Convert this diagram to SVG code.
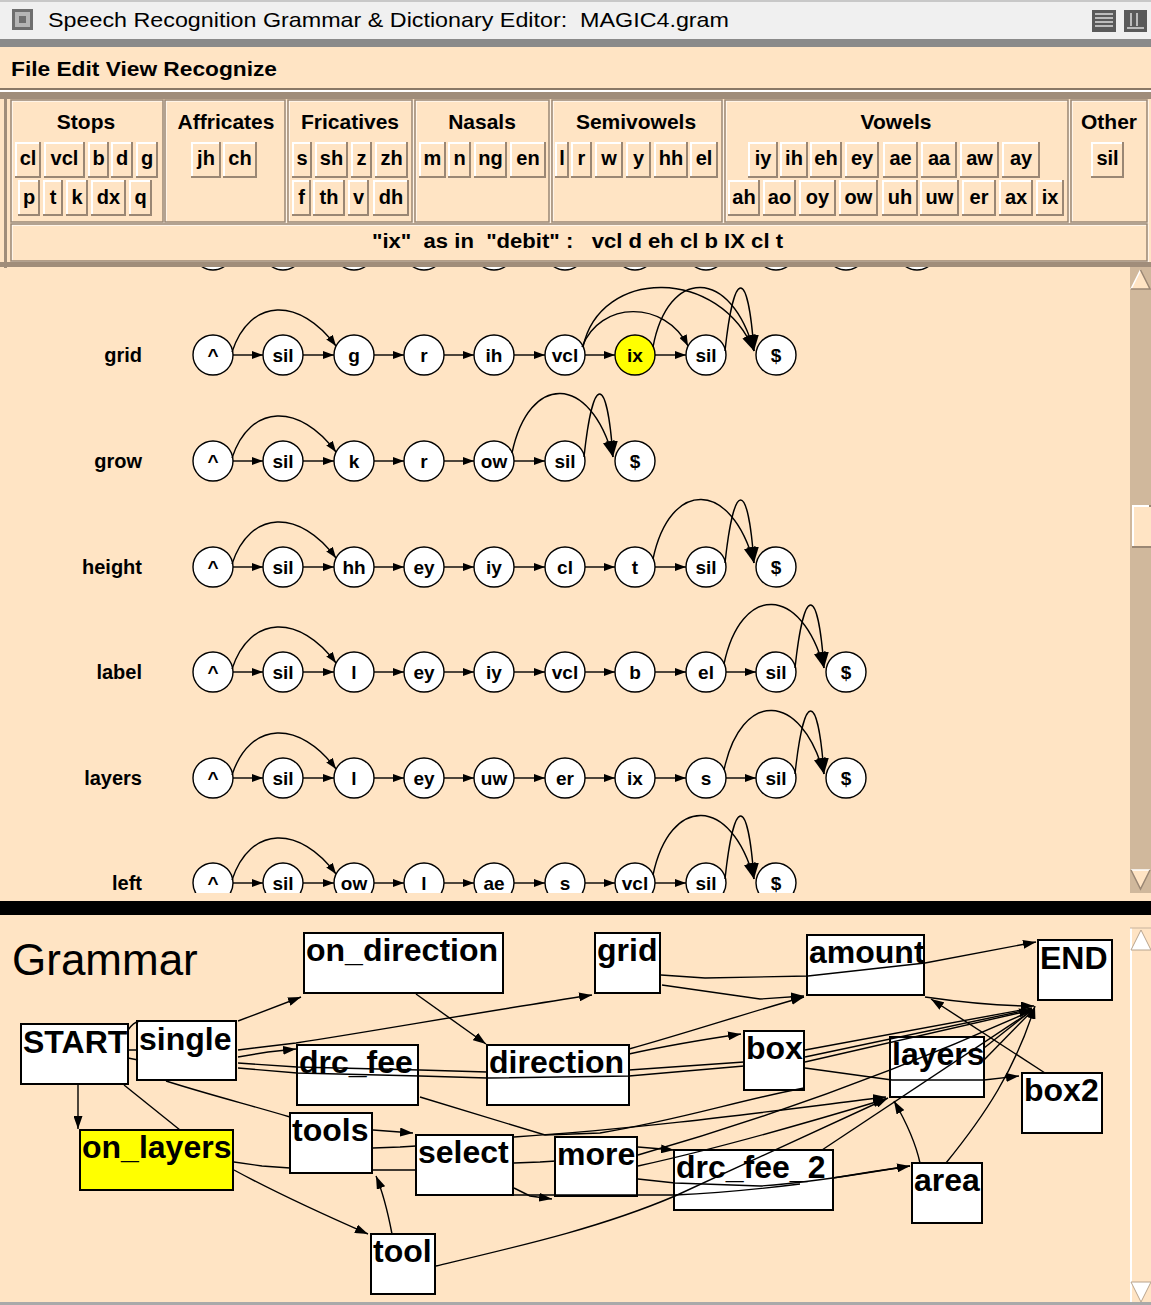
<svg xmlns="http://www.w3.org/2000/svg" width="1151" height="1305" viewBox="0 0 1151 1305">
<defs>
<style>
text{font-family:"Liberation Sans",Arial,sans-serif;white-space:pre}
.bd{fill:#9a8774}.bw{fill:#fff}.bf{fill:#ffe4c4}
.bt{font-size:20px;font-weight:bold;text-anchor:middle}
.gt{font-size:21px;font-weight:bold;text-anchor:middle}
.frd{fill:none;stroke:#9a8774;stroke-width:1.5}
.frw{fill:none;stroke:#fff;stroke-width:1.2}
.pn circle{fill:#fff;stroke:#000;stroke-width:1.4}
.pn text{font-size:19px;font-weight:bold;text-anchor:middle}
.pe path{fill:none;stroke:#000;stroke-width:1.4}
.rl{font-size:20px;font-weight:bold;text-anchor:end}
.gm rect{fill:#fff;stroke:#000;stroke-width:2}
.gm text{font-size:32px;font-weight:bold}
.ce path{fill:none;stroke:#000;stroke-width:1.4}
</style>
<marker id="s" viewBox="0 0 11 8" refX="11" refY="4" markerWidth="11" markerHeight="8" markerUnits="userSpaceOnUse" orient="auto"><path d="M0,0L11,4L0,8z"/></marker>
<marker id="bg" viewBox="0 0 16 12" refX="16" refY="6" markerWidth="16" markerHeight="12" markerUnits="userSpaceOnUse" orient="auto"><path d="M0,0L16,6L0,12z"/></marker>
<marker id="m" viewBox="0 0 13 9" refX="13" refY="4.5" markerWidth="13" markerHeight="9" markerUnits="userSpaceOnUse" orient="auto"><path d="M0,0L13,4.5L0,9z"/></marker>
<clipPath id="cu"><rect x="5" y="267" width="1124" height="626"/></clipPath>
</defs>

<rect width="1151" height="1305" fill="#ffe4c4"/>

<!-- title bar -->
<rect width="1151" height="39" fill="#f0f0f0"/>
<rect width="1151" height="2" fill="#c8c8c8"/>
<rect y="39" width="1151" height="8" fill="#8a8a8a"/>
<rect x="12" y="9" width="21" height="21" fill="#6e6e6e"/>
<rect x="15" y="12" width="15" height="15" fill="#b5b5b5"/>
<rect x="19" y="16" width="7" height="7" fill="#6e6e6e"/>
<rect x="1092" y="10" width="24" height="22" fill="#5a5a5a"/>
<path d="M1095,14H1113M1095,18H1113M1095,22H1113M1095,26H1113" stroke="#ddd" stroke-width="1.5"/>
<rect x="1124" y="10" width="23" height="22" fill="#5a5a5a"/>
<path d="M1127,28H1144M1131,13V26M1137,13V26" stroke="#ddd" stroke-width="1.5"/>
<text x="48" y="27" font-size="21" textLength="681" lengthAdjust="spacingAndGlyphs">Speech Recognition Grammar &amp; Dictionary Editor:  MAGIC4.gram</text>

<!-- menu bar -->
<text x="11" y="76" font-size="21" font-weight="bold" textLength="266" lengthAdjust="spacingAndGlyphs">File Edit View Recognize</text>
<rect y="88" width="1151" height="2" fill="#8a7866"/>
<rect y="90" width="1151" height="2" fill="#fff"/>
<rect y="92" width="1151" height="7" fill="#a08d7a"/>
<rect x="4" y="92" width="3" height="176" fill="#a08d7a"/>

<!-- phoneme panel frames -->
<g>
<rect class="frw" x="12" y="101" width="152" height="122"/><rect class="frd" x="11" y="100" width="152" height="122"/>
<rect class="frw" x="166" y="101" width="120" height="122"/><rect class="frd" x="165" y="100" width="120" height="122"/>
<rect class="frw" x="289" y="101" width="124" height="122"/><rect class="frd" x="288" y="100" width="124" height="122"/>
<rect class="frw" x="416" y="101" width="134" height="122"/><rect class="frd" x="415" y="100" width="134" height="122"/>
<rect class="frw" x="553" y="101" width="170" height="122"/><rect class="frd" x="552" y="100" width="170" height="122"/>
<rect class="frw" x="726" y="101" width="343" height="122"/><rect class="frd" x="725" y="100" width="343" height="122"/>
<rect class="frw" x="1072" y="101" width="76" height="122"/><rect class="frd" x="1071" y="100" width="76" height="122"/>
<rect class="frw" x="12" y="225" width="1136" height="37"/><rect class="frd" x="11" y="224" width="1136" height="37"/>
<text class="gt" x="86" y="129">Stops</text>
<text class="gt" x="226" y="129">Affricates</text>
<text class="gt" x="350" y="129">Fricatives</text>
<text class="gt" x="482" y="129">Nasals</text>
<text class="gt" x="636" y="129">Semivowels</text>
<text class="gt" x="896" y="129">Vowels</text>
<text class="gt" x="1109" y="129">Other</text>
<text x="372" y="248" font-size="20" font-weight="bold" textLength="411" lengthAdjust="spacingAndGlyphs">"ix"  as in  "debit" :   vcl d eh cl b IX cl t</text>
</g>

<!-- phoneme buttons row 1 -->
<g>
<rect class="bd" x="15" y="142" width="26" height="36"/><rect class="bw" x="15" y="142" width="24" height="34"/><rect class="bf" x="17" y="144" width="22" height="32"/><text class="bt" x="28" y="165">cl</text>
<rect class="bd" x="44" y="142" width="41" height="36"/><rect class="bw" x="44" y="142" width="39" height="34"/><rect class="bf" x="46" y="144" width="37" height="32"/><text class="bt" x="64.5" y="165">vcl</text>
<rect class="bd" x="88" y="142" width="21" height="36"/><rect class="bw" x="88" y="142" width="19" height="34"/><rect class="bf" x="90" y="144" width="17" height="32"/><text class="bt" x="98.5" y="165">b</text>
<rect class="bd" x="111" y="142" width="22" height="36"/><rect class="bw" x="111" y="142" width="20" height="34"/><rect class="bf" x="113" y="144" width="18" height="32"/><text class="bt" x="122" y="165">d</text>
<rect class="bd" x="136" y="142" width="22" height="36"/><rect class="bw" x="136" y="142" width="20" height="34"/><rect class="bf" x="138" y="144" width="18" height="32"/><text class="bt" x="147" y="165">g</text>
<rect class="bd" x="191" y="142" width="30" height="36"/><rect class="bw" x="191" y="142" width="28" height="34"/><rect class="bf" x="193" y="144" width="26" height="32"/><text class="bt" x="206" y="165">jh</text>
<rect class="bd" x="223" y="142" width="34" height="36"/><rect class="bw" x="223" y="142" width="32" height="34"/><rect class="bf" x="225" y="144" width="30" height="32"/><text class="bt" x="240" y="165">ch</text>
<rect class="bd" x="292" y="142" width="20" height="36"/><rect class="bw" x="292" y="142" width="18" height="34"/><rect class="bf" x="294" y="144" width="16" height="32"/><text class="bt" x="302" y="165">s</text>
<rect class="bd" x="315" y="142" width="33" height="36"/><rect class="bw" x="315" y="142" width="31" height="34"/><rect class="bf" x="317" y="144" width="29" height="32"/><text class="bt" x="331.5" y="165">sh</text>
<rect class="bd" x="351" y="142" width="21" height="36"/><rect class="bw" x="351" y="142" width="19" height="34"/><rect class="bf" x="353" y="144" width="17" height="32"/><text class="bt" x="361.5" y="165">z</text>
<rect class="bd" x="375" y="142" width="33" height="36"/><rect class="bw" x="375" y="142" width="31" height="34"/><rect class="bf" x="377" y="144" width="29" height="32"/><text class="bt" x="391.5" y="165">zh</text>
<rect class="bd" x="419" y="142" width="27" height="36"/><rect class="bw" x="419" y="142" width="25" height="34"/><rect class="bf" x="421" y="144" width="23" height="32"/><text class="bt" x="432.5" y="165">m</text>
<rect class="bd" x="448" y="142" width="23" height="36"/><rect class="bw" x="448" y="142" width="21" height="34"/><rect class="bf" x="450" y="144" width="19" height="32"/><text class="bt" x="459.5" y="165">n</text>
<rect class="bd" x="474" y="142" width="33" height="36"/><rect class="bw" x="474" y="142" width="31" height="34"/><rect class="bf" x="476" y="144" width="29" height="32"/><text class="bt" x="490.5" y="165">ng</text>
<rect class="bd" x="510" y="142" width="36" height="36"/><rect class="bw" x="510" y="142" width="34" height="34"/><rect class="bf" x="512" y="144" width="32" height="32"/><text class="bt" x="528" y="165">en</text>
<rect class="bd" x="555" y="142" width="14" height="36"/><rect class="bw" x="555" y="142" width="12" height="34"/><rect class="bf" x="557" y="144" width="10" height="32"/><text class="bt" x="562" y="165">l</text>
<rect class="bd" x="571" y="142" width="21" height="36"/><rect class="bw" x="571" y="142" width="19" height="34"/><rect class="bf" x="573" y="144" width="17" height="32"/><text class="bt" x="581.5" y="165">r</text>
<rect class="bd" x="595" y="142" width="28" height="36"/><rect class="bw" x="595" y="142" width="26" height="34"/><rect class="bf" x="597" y="144" width="24" height="32"/><text class="bt" x="609" y="165">w</text>
<rect class="bd" x="626" y="142" width="25" height="36"/><rect class="bw" x="626" y="142" width="23" height="34"/><rect class="bf" x="628" y="144" width="21" height="32"/><text class="bt" x="638.5" y="165">y</text>
<rect class="bd" x="654" y="142" width="34" height="36"/><rect class="bw" x="654" y="142" width="32" height="34"/><rect class="bf" x="656" y="144" width="30" height="32"/><text class="bt" x="671" y="165">hh</text>
<rect class="bd" x="690" y="142" width="28" height="36"/><rect class="bw" x="690" y="142" width="26" height="34"/><rect class="bf" x="692" y="144" width="24" height="32"/><text class="bt" x="704" y="165">el</text>
<rect class="bd" x="748" y="142" width="30" height="36"/><rect class="bw" x="748" y="142" width="28" height="34"/><rect class="bf" x="750" y="144" width="26" height="32"/><text class="bt" x="763" y="165">iy</text>
<rect class="bd" x="780" y="142" width="28" height="36"/><rect class="bw" x="780" y="142" width="26" height="34"/><rect class="bf" x="782" y="144" width="24" height="32"/><text class="bt" x="794" y="165">ih</text>
<rect class="bd" x="810" y="142" width="32" height="36"/><rect class="bw" x="810" y="142" width="30" height="34"/><rect class="bf" x="812" y="144" width="28" height="32"/><text class="bt" x="826" y="165">eh</text>
<rect class="bd" x="845" y="142" width="34" height="36"/><rect class="bw" x="845" y="142" width="32" height="34"/><rect class="bf" x="847" y="144" width="30" height="32"/><text class="bt" x="862" y="165">ey</text>
<rect class="bd" x="883" y="142" width="35" height="36"/><rect class="bw" x="883" y="142" width="33" height="34"/><rect class="bf" x="885" y="144" width="31" height="32"/><text class="bt" x="900.5" y="165">ae</text>
<rect class="bd" x="921" y="142" width="36" height="36"/><rect class="bw" x="921" y="142" width="34" height="34"/><rect class="bf" x="923" y="144" width="32" height="32"/><text class="bt" x="939" y="165">aa</text>
<rect class="bd" x="960" y="142" width="39" height="36"/><rect class="bw" x="960" y="142" width="37" height="34"/><rect class="bf" x="962" y="144" width="35" height="32"/><text class="bt" x="979.5" y="165">aw</text>
<rect class="bd" x="1002" y="142" width="38" height="36"/><rect class="bw" x="1002" y="142" width="36" height="34"/><rect class="bf" x="1004" y="144" width="34" height="32"/><text class="bt" x="1021" y="165">ay</text>
<rect class="bd" x="1091" y="142" width="33" height="36"/><rect class="bw" x="1091" y="142" width="31" height="34"/><rect class="bf" x="1093" y="144" width="29" height="32"/><text class="bt" x="1107.5" y="165">sil</text>
</g>
<!-- phoneme buttons row 2 -->
<g>
<rect class="bd" x="18" y="180" width="22" height="36"/><rect class="bw" x="18" y="180" width="20" height="34"/><rect class="bf" x="20" y="182" width="18" height="32"/><text class="bt" x="29" y="204">p</text>
<rect class="bd" x="43" y="180" width="20" height="36"/><rect class="bw" x="43" y="180" width="18" height="34"/><rect class="bf" x="45" y="182" width="16" height="32"/><text class="bt" x="53" y="204">t</text>
<rect class="bd" x="66" y="180" width="22" height="36"/><rect class="bw" x="66" y="180" width="20" height="34"/><rect class="bf" x="68" y="182" width="18" height="32"/><text class="bt" x="77" y="204">k</text>
<rect class="bd" x="91" y="180" width="35" height="36"/><rect class="bw" x="91" y="180" width="33" height="34"/><rect class="bf" x="93" y="182" width="31" height="32"/><text class="bt" x="108.5" y="204">dx</text>
<rect class="bd" x="129" y="180" width="23" height="36"/><rect class="bw" x="129" y="180" width="21" height="34"/><rect class="bf" x="131" y="182" width="19" height="32"/><text class="bt" x="140.5" y="204">q</text>
<rect class="bd" x="292" y="180" width="19" height="36"/><rect class="bw" x="292" y="180" width="17" height="34"/><rect class="bf" x="294" y="182" width="15" height="32"/><text class="bt" x="301.5" y="204">f</text>
<rect class="bd" x="313" y="180" width="32" height="36"/><rect class="bw" x="313" y="180" width="30" height="34"/><rect class="bf" x="315" y="182" width="28" height="32"/><text class="bt" x="329" y="204">th</text>
<rect class="bd" x="348" y="180" width="21" height="36"/><rect class="bw" x="348" y="180" width="19" height="34"/><rect class="bf" x="350" y="182" width="17" height="32"/><text class="bt" x="358.5" y="204">v</text>
<rect class="bd" x="373" y="180" width="36" height="36"/><rect class="bw" x="373" y="180" width="34" height="34"/><rect class="bf" x="375" y="182" width="32" height="32"/><text class="bt" x="391" y="204">dh</text>
<rect class="bd" x="728" y="180" width="32" height="36"/><rect class="bw" x="728" y="180" width="30" height="34"/><rect class="bf" x="730" y="182" width="28" height="32"/><text class="bt" x="744" y="204">ah</text>
<rect class="bd" x="763" y="180" width="33" height="36"/><rect class="bw" x="763" y="180" width="31" height="34"/><rect class="bf" x="765" y="182" width="29" height="32"/><text class="bt" x="779.5" y="204">ao</text>
<rect class="bd" x="799" y="180" width="37" height="36"/><rect class="bw" x="799" y="180" width="35" height="34"/><rect class="bf" x="801" y="182" width="33" height="32"/><text class="bt" x="817.5" y="204">oy</text>
<rect class="bd" x="839" y="180" width="39" height="36"/><rect class="bw" x="839" y="180" width="37" height="34"/><rect class="bf" x="841" y="182" width="35" height="32"/><text class="bt" x="858.5" y="204">ow</text>
<rect class="bd" x="882" y="180" width="36" height="36"/><rect class="bw" x="882" y="180" width="34" height="34"/><rect class="bf" x="884" y="182" width="32" height="32"/><text class="bt" x="900" y="204">uh</text>
<rect class="bd" x="920" y="180" width="39" height="36"/><rect class="bw" x="920" y="180" width="37" height="34"/><rect class="bf" x="922" y="182" width="35" height="32"/><text class="bt" x="939.5" y="204">uw</text>
<rect class="bd" x="962" y="180" width="34" height="36"/><rect class="bw" x="962" y="180" width="32" height="34"/><rect class="bf" x="964" y="182" width="30" height="32"/><text class="bt" x="979" y="204">er</text>
<rect class="bd" x="999" y="180" width="34" height="36"/><rect class="bw" x="999" y="180" width="32" height="34"/><rect class="bf" x="1001" y="182" width="30" height="32"/><text class="bt" x="1016" y="204">ax</text>
<rect class="bd" x="1036" y="180" width="28" height="36"/><rect class="bw" x="1036" y="180" width="26" height="34"/><rect class="bf" x="1038" y="182" width="24" height="32"/><text class="bt" x="1050" y="204">ix</text>
</g>

<rect y="262" width="1151" height="5" fill="#a08d7a"/>

<!-- upper scrollbar -->
<rect x="1130" y="267" width="21" height="626" fill="#d0b89c"/>
<polygon points="1131,289 1140.5,270 1150,289" fill="#ffe4c4"/>
<path d="M1131,289L1140.5,270" stroke="#fff" stroke-width="1.5"/><path d="M1140.5,270L1150,289H1131" stroke="#9a8774" stroke-width="1.5" fill="none"/>
<polygon points="1131,870 1150,870 1140.5,889" fill="#ffe4c4"/>
<path d="M1131,870H1150" stroke="#fff" stroke-width="1.5"/><path d="M1150,870L1140.5,889L1131,870" stroke="#9a8774" stroke-width="1.5" fill="none"/>
<rect x="1132" y="505" width="19" height="43" fill="#9a8774"/><rect x="1132" y="505" width="17" height="41" fill="#fff"/><rect x="1134" y="507" width="17" height="39" fill="#ffe4c4"/>

<!-- word pronunciation graphs -->
<g clip-path="url(#cu)">
<g class="pn" id="prev-row">
<circle cx="213" cy="250" r="20"/><circle cx="283" cy="250" r="20"/><circle cx="354" cy="250" r="20"/><circle cx="424" cy="250" r="20"/><circle cx="494" cy="250" r="20"/><circle cx="565" cy="250" r="20"/><circle cx="635" cy="250" r="20"/><circle cx="706" cy="250" r="20"/><circle cx="776" cy="250" r="20"/><circle cx="846" cy="250" r="20"/><circle cx="917" cy="250" r="20"/>
</g>

<text class="rl" x="142" y="362">grid</text>
<text class="rl" x="142" y="468">grow</text>
<text class="rl" x="142" y="574">height</text>
<text class="rl" x="142" y="679">label</text>
<text class="rl" x="142" y="785">layers</text>
<text class="rl" x="142" y="890">left</text>

<g class="pn">
<g id="grid-0"><circle cx="213" cy="355" r="20"/><text x="213" y="362">^</text></g>
<g id="grid-1"><circle cx="283" cy="355" r="20"/><text x="283" y="362">sil</text></g>
<g id="grid-2"><circle cx="354" cy="355" r="20"/><text x="354" y="362">g</text></g>
<g id="grid-3"><circle cx="424" cy="355" r="20"/><text x="424" y="362">r</text></g>
<g id="grid-4"><circle cx="494" cy="355" r="20"/><text x="494" y="362">ih</text></g>
<g id="grid-5"><circle cx="565" cy="355" r="20"/><text x="565" y="362">vcl</text></g>
<g id="grid-6"><circle cx="635" cy="355" r="20" style="fill:#ffff00"/><text x="635" y="362">ix</text></g>
<g id="grid-7"><circle cx="706" cy="355" r="20"/><text x="706" y="362">sil</text></g>
<g id="grid-8"><circle cx="776" cy="355" r="20"/><text x="776" y="362">$</text></g>

<g id="grow-0"><circle cx="213" cy="461" r="20"/><text x="213" y="468">^</text></g>
<g id="grow-1"><circle cx="283" cy="461" r="20"/><text x="283" y="468">sil</text></g>
<g id="grow-2"><circle cx="354" cy="461" r="20"/><text x="354" y="468">k</text></g>
<g id="grow-3"><circle cx="424" cy="461" r="20"/><text x="424" y="468">r</text></g>
<g id="grow-4"><circle cx="494" cy="461" r="20"/><text x="494" y="468">ow</text></g>
<g id="grow-5"><circle cx="565" cy="461" r="20"/><text x="565" y="468">sil</text></g>
<g id="grow-6"><circle cx="635" cy="461" r="20"/><text x="635" y="468">$</text></g>

<g id="height-0"><circle cx="213" cy="567" r="20"/><text x="213" y="574">^</text></g>
<g id="height-1"><circle cx="283" cy="567" r="20"/><text x="283" y="574">sil</text></g>
<g id="height-2"><circle cx="354" cy="567" r="20"/><text x="354" y="574">hh</text></g>
<g id="height-3"><circle cx="424" cy="567" r="20"/><text x="424" y="574">ey</text></g>
<g id="height-4"><circle cx="494" cy="567" r="20"/><text x="494" y="574">iy</text></g>
<g id="height-5"><circle cx="565" cy="567" r="20"/><text x="565" y="574">cl</text></g>
<g id="height-6"><circle cx="635" cy="567" r="20"/><text x="635" y="574">t</text></g>
<g id="height-7"><circle cx="706" cy="567" r="20"/><text x="706" y="574">sil</text></g>
<g id="height-8"><circle cx="776" cy="567" r="20"/><text x="776" y="574">$</text></g>

<g id="label-0"><circle cx="213" cy="672" r="20"/><text x="213" y="679">^</text></g>
<g id="label-1"><circle cx="283" cy="672" r="20"/><text x="283" y="679">sil</text></g>
<g id="label-2"><circle cx="354" cy="672" r="20"/><text x="354" y="679">l</text></g>
<g id="label-3"><circle cx="424" cy="672" r="20"/><text x="424" y="679">ey</text></g>
<g id="label-4"><circle cx="494" cy="672" r="20"/><text x="494" y="679">iy</text></g>
<g id="label-5"><circle cx="565" cy="672" r="20"/><text x="565" y="679">vcl</text></g>
<g id="label-6"><circle cx="635" cy="672" r="20"/><text x="635" y="679">b</text></g>
<g id="label-7"><circle cx="706" cy="672" r="20"/><text x="706" y="679">el</text></g>
<g id="label-8"><circle cx="776" cy="672" r="20"/><text x="776" y="679">sil</text></g>
<g id="label-9"><circle cx="846" cy="672" r="20"/><text x="846" y="679">$</text></g>

<g id="layers-0"><circle cx="213" cy="778" r="20"/><text x="213" y="785">^</text></g>
<g id="layers-1"><circle cx="283" cy="778" r="20"/><text x="283" y="785">sil</text></g>
<g id="layers-2"><circle cx="354" cy="778" r="20"/><text x="354" y="785">l</text></g>
<g id="layers-3"><circle cx="424" cy="778" r="20"/><text x="424" y="785">ey</text></g>
<g id="layers-4"><circle cx="494" cy="778" r="20"/><text x="494" y="785">uw</text></g>
<g id="layers-5"><circle cx="565" cy="778" r="20"/><text x="565" y="785">er</text></g>
<g id="layers-6"><circle cx="635" cy="778" r="20"/><text x="635" y="785">ix</text></g>
<g id="layers-7"><circle cx="706" cy="778" r="20"/><text x="706" y="785">s</text></g>
<g id="layers-8"><circle cx="776" cy="778" r="20"/><text x="776" y="785">sil</text></g>
<g id="layers-9"><circle cx="846" cy="778" r="20"/><text x="846" y="785">$</text></g>

<g id="left-0"><circle cx="213" cy="883" r="20"/><text x="213" y="890">^</text></g>
<g id="left-1"><circle cx="283" cy="883" r="20"/><text x="283" y="890">sil</text></g>
<g id="left-2"><circle cx="354" cy="883" r="20"/><text x="354" y="890">ow</text></g>
<g id="left-3"><circle cx="424" cy="883" r="20"/><text x="424" y="890">l</text></g>
<g id="left-4"><circle cx="494" cy="883" r="20"/><text x="494" y="890">ae</text></g>
<g id="left-5"><circle cx="565" cy="883" r="20"/><text x="565" y="890">s</text></g>
<g id="left-6"><circle cx="635" cy="883" r="20"/><text x="635" y="890">vcl</text></g>
<g id="left-7"><circle cx="706" cy="883" r="20"/><text x="706" y="890">sil</text></g>
<g id="left-8"><circle cx="776" cy="883" r="20"/><text x="776" y="890">$</text></g>
</g>

<g class="pe" id="word-edges">
<!-- grid -->
<path marker-end="url(#s)" d="M233,355H263"/><path marker-end="url(#s)" d="M303,355H334"/><path marker-end="url(#s)" d="M374,355H404"/><path marker-end="url(#s)" d="M444,355H474"/><path marker-end="url(#s)" d="M514,355H545"/><path marker-end="url(#s)" d="M585,355H615"/><path marker-end="url(#s)" d="M655,355H686"/>
<path marker-end="url(#s)" d="M232,352C250,297 300,297 336,346"/>
<path marker-end="url(#s)" d="M582,347C600,300 665,300 688,346"/>
<path marker-end="url(#bg)" d="M583,347C600,267 720,267 754,351"/>
<path marker-end="url(#bg)" d="M653,347C668,267 731,267 754,351"/>
<path marker-end="url(#bg)" d="M725,351C734,267 748,267 754,351"/>
<!-- grow -->
<path marker-end="url(#s)" d="M233,461H263"/><path marker-end="url(#s)" d="M303,461H334"/><path marker-end="url(#s)" d="M374,461H404"/><path marker-end="url(#s)" d="M444,461H474"/><path marker-end="url(#s)" d="M514,461H545"/>
<path marker-end="url(#s)" d="M232,458C250,403 300,403 336,452"/>
<path marker-end="url(#bg)" d="M512,453C529,373 590,373 613,457"/>
<path marker-end="url(#bg)" d="M584,457C593,373 607,373 613,457"/>
<!-- height -->
<path marker-end="url(#s)" d="M233,567H263"/><path marker-end="url(#s)" d="M303,567H334"/><path marker-end="url(#s)" d="M374,567H404"/><path marker-end="url(#s)" d="M444,567H474"/><path marker-end="url(#s)" d="M514,567H545"/><path marker-end="url(#s)" d="M585,567H615"/><path marker-end="url(#s)" d="M655,567H686"/>
<path marker-end="url(#s)" d="M232,564C250,509 300,509 336,558"/>
<path marker-end="url(#bg)" d="M653,559C670,479 731,479 754,563"/>
<path marker-end="url(#bg)" d="M725,563C734,479 748,479 754,563"/>
<!-- label -->
<path marker-end="url(#s)" d="M233,672H263"/><path marker-end="url(#s)" d="M303,672H334"/><path marker-end="url(#s)" d="M374,672H404"/><path marker-end="url(#s)" d="M444,672H474"/><path marker-end="url(#s)" d="M514,672H545"/><path marker-end="url(#s)" d="M585,672H615"/><path marker-end="url(#s)" d="M655,672H686"/><path marker-end="url(#s)" d="M726,672H756"/>
<path marker-end="url(#s)" d="M232,669C250,614 300,614 336,663"/>
<path marker-end="url(#bg)" d="M724,664C741,584 801,584 824,668"/>
<path marker-end="url(#bg)" d="M795,668C804,584 818,584 824,668"/>
<!-- layers -->
<path marker-end="url(#s)" d="M233,778H263"/><path marker-end="url(#s)" d="M303,778H334"/><path marker-end="url(#s)" d="M374,778H404"/><path marker-end="url(#s)" d="M444,778H474"/><path marker-end="url(#s)" d="M514,778H545"/><path marker-end="url(#s)" d="M585,778H615"/><path marker-end="url(#s)" d="M655,778H686"/><path marker-end="url(#s)" d="M726,778H756"/>
<path marker-end="url(#s)" d="M232,775C250,720 300,720 336,769"/>
<path marker-end="url(#bg)" d="M724,770C741,690 801,690 824,774"/>
<path marker-end="url(#bg)" d="M795,774C804,690 818,690 824,774"/>
<!-- left -->
<path marker-end="url(#s)" d="M233,883H263"/><path marker-end="url(#s)" d="M303,883H334"/><path marker-end="url(#s)" d="M374,883H404"/><path marker-end="url(#s)" d="M444,883H474"/><path marker-end="url(#s)" d="M514,883H545"/><path marker-end="url(#s)" d="M585,883H615"/><path marker-end="url(#s)" d="M655,883H686"/>
<path marker-end="url(#s)" d="M232,880C250,825 300,825 336,874"/>
<path marker-end="url(#bg)" d="M653,875C670,795 731,795 754,879"/>
<path marker-end="url(#bg)" d="M725,879C734,795 748,795 754,879"/>
</g>
</g>

<!-- divider -->
<rect y="901" width="1151" height="14" fill="#000"/>

<!-- grammar panel -->
<text x="12" y="975" font-size="44">Grammar</text>
<rect x="1130" y="928" width="21" height="375" fill="#ffe4c4"/>
<path d="M1131,928V1303" stroke="#fff" stroke-width="2"/>
<path d="M1130,928H1151" stroke="#c8b49e" stroke-width="1"/>
<polygon points="1131,950 1141,930 1151,950" fill="#fff" stroke="#b8a48e" stroke-width="1"/>
<polygon points="1131,1282 1151,1282 1141,1302" fill="#fff" stroke="#b8a48e" stroke-width="1"/>
<rect y="1302" width="1151" height="3" fill="#a9a9a9"/>

<g class="gm">
<g id="n-START"><rect x="21" y="1024" width="107" height="60"/><text x="23" y="1053">START</text></g>
<g id="n-single"><rect x="137" y="1021" width="99" height="59"/><text x="139" y="1050">single</text></g>
<g id="n-on_direction"><rect x="304" y="933" width="199" height="60"/><text x="306" y="961">on_direction</text></g>
<g id="n-grid"><rect x="595" y="933" width="65" height="60"/><text x="597" y="961">grid</text></g>
<g id="n-amount"><rect x="807" y="935" width="117" height="60"/><text x="809" y="963">amount</text></g>
<g id="n-END"><rect x="1038" y="940" width="74" height="60"/><text x="1040" y="969">END</text></g>
<g id="n-drc_fee"><rect x="297" y="1045" width="121" height="60"/><text x="299" y="1073">drc_fee</text></g>
<g id="n-direction"><rect x="487" y="1045" width="142" height="60"/><text x="489" y="1073">direction</text></g>
<g id="n-box"><rect x="744" y="1031" width="60" height="59"/><text x="746" y="1059">box</text></g>
<g id="n-layers"><rect x="890" y="1037" width="94" height="60"/><text x="892" y="1065">layers</text></g>
<g id="n-box2"><rect x="1022" y="1073" width="80" height="60"/><text x="1024" y="1101">box2</text></g>
<g id="n-on_layers"><rect x="80" y="1130" width="153" height="60" style="fill:#ffff00"/><text x="82" y="1158">on_layers</text></g>
<g id="n-tools"><rect x="290" y="1113" width="82" height="60"/><text x="292" y="1141">tools</text></g>
<g id="n-select"><rect x="416" y="1135" width="97" height="60"/><text x="418" y="1163">select</text></g>
<g id="n-more"><rect x="555" y="1137" width="82" height="59"/><text x="557" y="1165">more</text></g>
<g id="n-drc_fee_2"><rect x="674" y="1150" width="159" height="60"/><text x="676" y="1178">drc_fee_2</text></g>
<g id="n-area"><rect x="912" y="1163" width="70" height="60"/><text x="914" y="1191">area</text></g>
<g id="n-tool"><rect x="371" y="1234" width="64" height="60"/><text x="373" y="1262">tool</text></g>
</g>

<g class="ce" id="grammar-edges">
<path marker-end="url(#m)" d="M238,1021L301,997"/>
<path marker-end="url(#m)" d="M416,994L486,1044"/>
<path marker-end="url(#m)" d="M238,1050L296,1043C380,1030 480,1012 592,995"/>
<path marker-end="url(#m)" d="M238,1057L268,1052L296,1049"/>
<path d="M238,1063L297,1067L420,1070L487,1072"/>
<path d="M238,1068L297,1073L420,1076L487,1078L629,1076L744,1066"/>
<path d="M128,1050L138,1050M128,1058L138,1060M128,1030C132,1024 135,1022 140,1021"/>
<path marker-end="url(#m)" d="M78,1084L78,1129"/>
<path d="M124,1085L180,1130"/>
<path d="M166,1081C210,1095 250,1105 290,1117"/>
<path d="M234,1162L262,1166L290,1168"/>
<path marker-end="url(#m)" d="M234,1170C280,1195 320,1213 368,1234"/>
<path marker-end="url(#m)" d="M392,1234C388,1213 384,1195 376,1176"/>
<path marker-end="url(#m)" d="M436,1266C520,1246 600,1228 675,1196L888,1098"/>
<path marker-end="url(#m)" d="M373,1130L413,1133"/>
<path d="M373,1148L400,1147L416,1146"/>
<path d="M373,1170L416,1170"/>
<path d="M514,1163L540,1162L556,1161"/>
<path marker-end="url(#m)" d="M514,1188L530,1196L552,1199"/>
<path d="M420,1097L545,1135L600,1133C680,1120 740,1100 804,1088"/>
<path marker-end="url(#m)" d="M638,1147L674,1150"/>
<path marker-end="url(#m)" d="M638,1166C720,1148 800,1125 886,1099"/>
<path marker-end="url(#m)" d="M514,1137C650,1128 780,1110 886,1097"/>
<path marker-end="url(#m)" d="M638,1179L675,1183L760,1186C820,1182 870,1172 910,1166"/>
<path d="M514,1195L675,1195C720,1193 760,1189 800,1184"/>
<path d="M833,1178L870,1172L910,1166"/>
<path marker-end="url(#m)" d="M920,1163C915,1140 905,1120 894,1101"/>
<path marker-end="url(#m)" d="M946,1163C985,1115 1015,1070 1035,1006"/>
<path marker-end="url(#m)" d="M1045,1073L931,999"/>
<path marker-end="url(#m)" d="M925,997C960,1002 995,1006 1034,1006"/>
<path marker-end="url(#m)" d="M661,975L705,978L808,976L925,963L1036,942"/>
<path marker-end="url(#m)" d="M662,985L760,999L804,996"/>
<path marker-end="url(#m)" d="M629,1054C665,1046 700,1040 741,1034"/>
<path marker-end="url(#m)" d="M629,1049C690,1032 750,1012 804,997"/>
<path d="M805,1050L1032,1008"/>
<path d="M805,1057L1032,1009"/>
<path marker-end="url(#m)" d="M805,1062L1032,1010"/>
<path marker-end="url(#m)" d="M805,1068L892,1080L984,1080L1019,1076"/>
<path d="M984,1048L1032,1010"/>
<path d="M822,1150L1033,1010"/>
<path d="M638,1155C760,1120 900,1070 1033,1010"/>
<path d="M629,1070L744,1062"/>
<path d="M984,1060L1032,1011"/>
</g>
</svg>
